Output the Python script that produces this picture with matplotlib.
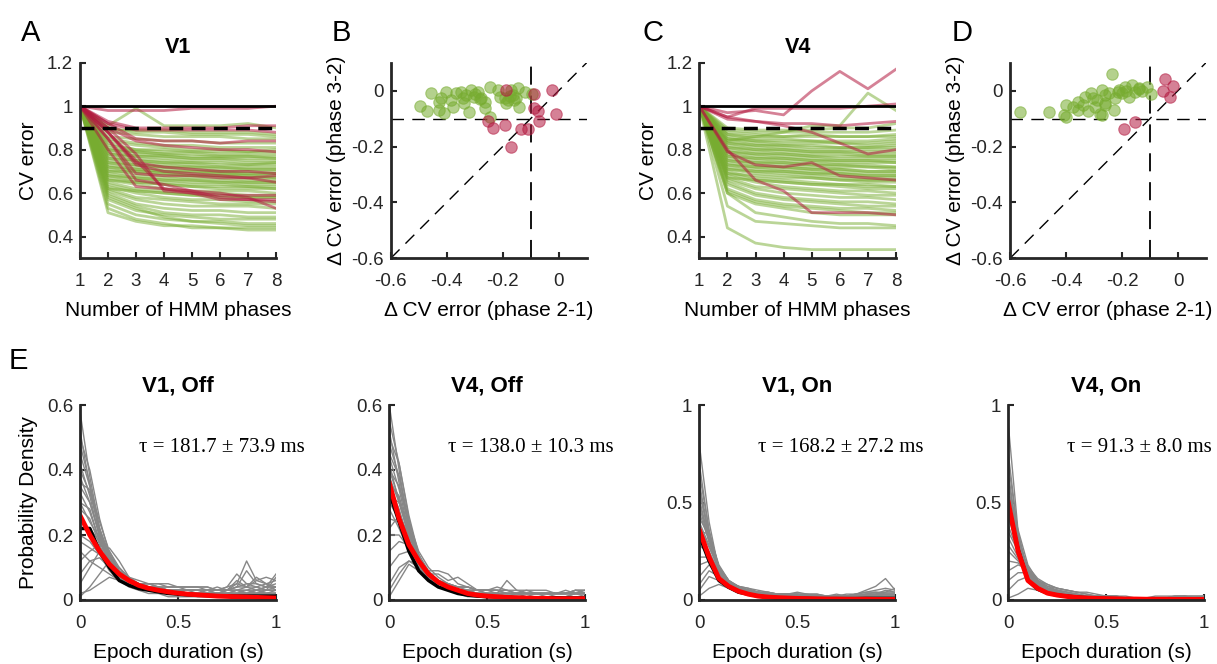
import matplotlib
matplotlib.use("Agg")
import matplotlib.pyplot as plt
from matplotlib.ticker import FuncFormatter

plt.rcParams['font.family'] = ['Liberation Sans', 'DejaVu Sans']

# ---------------- data ----------------
phases = [1, 2, 3, 4, 5, 6, 7, 8]

v1_green = [
    [1, 0.90, 0.88, 0.88, 0.87, 0.87, 0.87, 0.86],
    [1, 0.88, 0.87, 0.86, 0.86, 0.86, 0.85, 0.85],
    [1, 0.86, 0.85, 0.84, 0.84, 0.83, 0.83, 0.83],
    [1, 0.85, 0.83, 0.82, 0.82, 0.81, 0.81, 0.81],
    [1, 0.84, 0.82, 0.81, 0.80, 0.80, 0.79, 0.79],
    [1, 0.82, 0.80, 0.79, 0.79, 0.78, 0.78, 0.78],
    [1, 0.81, 0.79, 0.78, 0.77, 0.77, 0.77, 0.76],
    [1, 0.80, 0.78, 0.77, 0.76, 0.76, 0.75, 0.75],
    [1, 0.79, 0.77, 0.76, 0.75, 0.75, 0.74, 0.74],
    [1, 0.78, 0.76, 0.75, 0.74, 0.74, 0.73, 0.73],
    [1, 0.77, 0.75, 0.74, 0.73, 0.72, 0.72, 0.72],
    [1, 0.76, 0.74, 0.73, 0.72, 0.71, 0.71, 0.71],
    [1, 0.75, 0.73, 0.72, 0.71, 0.70, 0.70, 0.70],
    [1, 0.74, 0.72, 0.71, 0.70, 0.70, 0.69, 0.69],
    [1, 0.73, 0.71, 0.70, 0.69, 0.69, 0.68, 0.68],
    [1, 0.72, 0.70, 0.69, 0.68, 0.68, 0.67, 0.67],
    [1, 0.71, 0.69, 0.68, 0.67, 0.67, 0.66, 0.66],
    [1, 0.70, 0.68, 0.67, 0.66, 0.66, 0.65, 0.65],
    [1, 0.69, 0.67, 0.66, 0.65, 0.65, 0.64, 0.64],
    [1, 0.68, 0.66, 0.65, 0.64, 0.64, 0.63, 0.63],
    [1, 0.67, 0.65, 0.64, 0.63, 0.62, 0.62, 0.62],
    [1, 0.66, 0.64, 0.62, 0.61, 0.61, 0.61, 0.60],
    [1, 0.65, 0.62, 0.61, 0.60, 0.60, 0.59, 0.59],
    [1, 0.64, 0.61, 0.60, 0.59, 0.58, 0.58, 0.58],
    [1, 0.63, 0.60, 0.58, 0.57, 0.57, 0.56, 0.56],
    [1, 0.62, 0.58, 0.57, 0.56, 0.55, 0.55, 0.55],
    [1, 0.61, 0.57, 0.55, 0.54, 0.54, 0.54, 0.53],
    [1, 0.60, 0.55, 0.53, 0.52, 0.52, 0.51, 0.51],
    [1, 0.59, 0.54, 0.51, 0.50, 0.50, 0.49, 0.49],
    [1, 0.57, 0.52, 0.50, 0.49, 0.48, 0.48, 0.48],
    [1, 0.55, 0.50, 0.48, 0.47, 0.47, 0.46, 0.46],
    [1, 0.51, 0.47, 0.45, 0.45, 0.44, 0.44, 0.44],
    [1, 0.53, 0.48, 0.46, 0.44, 0.44, 0.43, 0.43],
    [1, 0.58, 0.53, 0.49, 0.47, 0.46, 0.45, 0.45],
    [1, 0.83, 0.80, 0.80, 0.79, 0.79, 0.79, 0.80],
    [1, 0.80, 0.79, 0.78, 0.78, 0.77, 0.77, 0.77],
    [1, 0.78, 0.77, 0.77, 0.76, 0.76, 0.76, 0.76],
    [1, 0.76, 0.75, 0.74, 0.74, 0.73, 0.73, 0.74],
    [1, 0.74, 0.73, 0.72, 0.72, 0.72, 0.71, 0.71],
    [1, 0.72, 0.71, 0.70, 0.70, 0.69, 0.69, 0.69],
    [1, 0.70, 0.70, 0.69, 0.68, 0.68, 0.68, 0.67],
    [1, 0.68, 0.67, 0.66, 0.66, 0.65, 0.65, 0.65],
    [1, 0.66, 0.65, 0.64, 0.63, 0.63, 0.63, 0.62],
    [1, 0.62, 0.61, 0.60, 0.59, 0.59, 0.58, 0.58],
    [1, 0.91, 0.99, 0.91, 0.91, 0.91, 0.92, 0.90],
    [1, 0.89, 0.89, 0.89, 0.88, 0.88, 0.88, 0.87],
]

v1_red = [
    [1, 0.98, 0.98, 0.98, 0.99, 0.99, 0.99, 1.00],
    [1, 0.93, 0.90, 0.90, 0.90, 0.90, 0.91, 0.91],
    [1, 0.92, 0.89, 0.89, 0.89, 0.89, 0.89, 0.88],
    [1, 0.92, 0.85, 0.84, 0.84, 0.83, 0.84, 0.84],
    [1, 0.90, 0.84, 0.82, 0.81, 0.80, 0.80, 0.79],
    [1, 0.88, 0.74, 0.72, 0.71, 0.70, 0.70, 0.69],
    [1, 0.85, 0.69, 0.68, 0.68, 0.67, 0.67, 0.65],
    [1, 0.80, 0.63, 0.62, 0.60, 0.57, 0.57, 0.57],
    [1, 0.88, 0.75, 0.62, 0.61, 0.58, 0.57, 0.56],
    [1, 0.90, 0.78, 0.61, 0.60, 0.59, 0.59, 0.59],
    [1, 0.85, 0.66, 0.64, 0.61, 0.60, 0.58, 0.53],
    [1, 0.88, 0.73, 0.70, 0.69, 0.68, 0.67, 0.68],
]

v4_green = [
    [1, 0.89, 0.88, 0.88, 0.88, 0.88, 0.88, 0.89],
    [1, 0.88, 0.87, 0.86, 0.86, 0.86, 0.86, 0.86],
    [1, 0.87, 0.85, 0.85, 0.84, 0.84, 0.84, 0.85],
    [1, 0.86, 0.84, 0.83, 0.83, 0.83, 0.82, 0.83],
    [1, 0.85, 0.83, 0.82, 0.82, 0.81, 0.81, 0.81],
    [1, 0.84, 0.82, 0.81, 0.80, 0.80, 0.80, 0.80],
    [1, 0.83, 0.81, 0.80, 0.79, 0.79, 0.78, 0.78],
    [1, 0.82, 0.80, 0.79, 0.78, 0.78, 0.77, 0.77],
    [1, 0.81, 0.79, 0.78, 0.77, 0.76, 0.76, 0.76],
    [1, 0.80, 0.78, 0.77, 0.76, 0.75, 0.75, 0.75],
    [1, 0.79, 0.77, 0.76, 0.75, 0.74, 0.74, 0.74],
    [1, 0.78, 0.76, 0.75, 0.74, 0.73, 0.73, 0.72],
    [1, 0.77, 0.75, 0.74, 0.73, 0.72, 0.72, 0.71],
    [1, 0.76, 0.74, 0.73, 0.72, 0.71, 0.70, 0.70],
    [1, 0.75, 0.73, 0.72, 0.71, 0.70, 0.69, 0.69],
    [1, 0.74, 0.72, 0.71, 0.70, 0.69, 0.68, 0.68],
    [1, 0.73, 0.71, 0.70, 0.69, 0.68, 0.67, 0.67],
    [1, 0.72, 0.70, 0.69, 0.68, 0.67, 0.66, 0.66],
    [1, 0.71, 0.69, 0.68, 0.67, 0.66, 0.65, 0.65],
    [1, 0.70, 0.67, 0.66, 0.65, 0.64, 0.64, 0.63],
    [1, 0.69, 0.66, 0.65, 0.64, 0.63, 0.62, 0.62],
    [1, 0.68, 0.65, 0.63, 0.62, 0.61, 0.61, 0.60],
    [1, 0.67, 0.63, 0.62, 0.61, 0.60, 0.59, 0.59],
    [1, 0.66, 0.62, 0.60, 0.59, 0.58, 0.58, 0.57],
    [1, 0.65, 0.60, 0.58, 0.57, 0.56, 0.56, 0.55],
    [1, 0.64, 0.59, 0.57, 0.56, 0.55, 0.54, 0.54],
    [1, 0.62, 0.57, 0.55, 0.54, 0.53, 0.53, 0.52],
    [1, 0.61, 0.56, 0.54, 0.53, 0.52, 0.51, 0.51],
    [1, 0.60, 0.55, 0.53, 0.51, 0.50, 0.50, 0.50],
    [1, 0.60, 0.51, 0.49, 0.47, 0.46, 0.46, 0.45],
    [1, 0.54, 0.47, 0.46, 0.45, 0.44, 0.44, 0.44],
    [1, 0.44, 0.37, 0.35, 0.34, 0.34, 0.34, 0.34],
    [1, 0.87, 0.86, 0.86, 0.87, 0.86, 0.86, 0.87],
    [1, 0.85, 0.84, 0.84, 0.84, 0.83, 0.83, 0.84],
    [1, 0.83, 0.82, 0.82, 0.81, 0.81, 0.81, 0.82],
    [1, 0.81, 0.80, 0.80, 0.79, 0.79, 0.79, 0.79],
    [1, 0.79, 0.78, 0.78, 0.77, 0.77, 0.77, 0.77],
    [1, 0.77, 0.76, 0.76, 0.75, 0.75, 0.75, 0.74],
    [1, 0.75, 0.74, 0.74, 0.73, 0.73, 0.72, 0.72],
    [1, 0.73, 0.72, 0.72, 0.71, 0.71, 0.70, 0.70],
    [1, 0.71, 0.70, 0.70, 0.69, 0.69, 0.68, 0.68],
    [1, 0.69, 0.68, 0.67, 0.67, 0.66, 0.66, 0.66],
    [1, 0.67, 0.66, 0.65, 0.64, 0.64, 0.63, 0.63],
    [1, 0.84, 0.86, 0.88, 0.91, 0.91, 1.06, 0.98],
    [1, 0.90, 0.89, 0.89, 0.89, 0.90, 0.90, 0.92],
]

v4_red = [
    [1, 0.97, 0.98, 0.96, 1.07, 1.16, 1.08, 1.17],
    [1, 0.95, 0.99, 0.99, 0.99, 0.99, 1.00, 1.01],
    [1, 0.95, 0.93, 0.92, 0.92, 0.91, 0.92, 0.93],
    [1, 0.94, 0.93, 0.91, 0.88, 0.83, 0.78, 0.80],
    [1, 0.79, 0.73, 0.72, 0.74, 0.68, 0.67, 0.66],
    [1, 0.80, 0.66, 0.61, 0.51, 0.51, 0.51, 0.50],
]

# scatter B (V1)
b_green_x = [-0.457, -0.494, -0.469, -0.421, -0.403, -0.427, -0.427, -0.409, -0.385, -0.379,
             -0.367, -0.349, -0.343, -0.337, -0.319, -0.313, -0.301, -0.289, -0.277, -0.265,
             -0.262, -0.247, -0.247, -0.217, -0.211, -0.193, -0.181, -0.169, -0.162, -0.151,
             -0.144, -0.142, -0.121, -0.096, -0.330, -0.300, -0.280, -0.190, -0.175, -0.160]
b_green_y = [-0.009, -0.054, -0.073, -0.025, -0.004, -0.039, -0.069, -0.081, -0.033, -0.057,
             -0.009, -0.004, -0.027, -0.045, -0.075, 0.002, -0.021, -0.004, -0.027, -0.039,
             -0.063, 0.014, -0.093, 0.002, -0.021, -0.027, -0.033, 0.002, -0.015, -0.027,
             0.009, -0.059, -0.004, -0.013, -0.015, -0.012, -0.030, -0.045, -0.020, -0.035]
b_red_x = [-0.187, -0.090, -0.024, -0.090, -0.075, -0.010, -0.072, -0.253, -0.235, -0.193,
           -0.135, -0.111, -0.169]
b_red_y = [0.002, -0.013, 0.002, -0.063, -0.073, -0.082, -0.108, -0.108, -0.135, -0.123,
           -0.137, -0.137, -0.200]

# scatter D (V4)
d_green_x = [-0.564, -0.461, -0.406, -0.400, -0.400, -0.376, -0.358, -0.339, -0.321, -0.309,
             -0.303, -0.297, -0.279, -0.273, -0.261, -0.248, -0.236, -0.230, -0.224, -0.212,
             -0.200, -0.188, -0.176, -0.164, -0.152, -0.139, -0.127, -0.109, -0.095, -0.333,
             -0.358, -0.291, -0.261, -0.273, -0.260, -0.215, -0.185, -0.140]
d_green_y = [-0.075, -0.075, -0.087, -0.095, -0.051, -0.057, -0.039, -0.051, -0.073, -0.009,
             -0.027, -0.057, -0.083, 0.002, -0.045, -0.009, 0.060, -0.069, -0.027, 0.002,
             -0.009, 0.014, -0.021, 0.020, -0.004, 0.009, 0.000, 0.014, -0.012, -0.021,
             -0.069, -0.033, -0.015, -0.087, -0.050, -0.005, 0.000, 0.005]
d_red_x = [-0.048, -0.018, -0.052, -0.027, -0.155, -0.194]
d_red_y = [0.042, 0.017, 0.000, -0.024, -0.114, -0.137]

# panel E
epoch_t = [0.00, 0.05, 0.10, 0.15, 0.20, 0.25, 0.30, 0.35, 0.40, 0.45, 0.50,
           0.55, 0.60, 0.65, 0.70, 0.75, 0.80, 0.85, 0.90, 0.95, 1.00]

v1_off_grey = [
    [0.58, 0.38, 0.22, 0.12, 0.07, 0.05, 0.04, 0.03, 0.03, 0.02, 0.02, 0.02, 0.01, 0.01, 0.02, 0.01, 0.01, 0.02, 0.01, 0.01, 0.01],
    [0.50, 0.40, 0.25, 0.14, 0.08, 0.05, 0.04, 0.04, 0.03, 0.03, 0.02, 0.02, 0.02, 0.02, 0.02, 0.02, 0.03, 0.02, 0.02, 0.02, 0.02],
    [0.45, 0.35, 0.24, 0.15, 0.09, 0.06, 0.05, 0.04, 0.03, 0.03, 0.03, 0.02, 0.02, 0.02, 0.02, 0.02, 0.02, 0.02, 0.03, 0.02, 0.03],
    [0.40, 0.33, 0.22, 0.13, 0.08, 0.06, 0.05, 0.05, 0.04, 0.03, 0.03, 0.03, 0.03, 0.03, 0.02, 0.03, 0.06, 0.04, 0.03, 0.04, 0.05],
    [0.35, 0.30, 0.20, 0.12, 0.08, 0.06, 0.05, 0.05, 0.04, 0.04, 0.04, 0.03, 0.03, 0.03, 0.03, 0.04, 0.08, 0.05, 0.04, 0.03, 0.04],
    [0.30, 0.28, 0.18, 0.11, 0.07, 0.05, 0.04, 0.04, 0.04, 0.03, 0.03, 0.03, 0.03, 0.03, 0.03, 0.03, 0.05, 0.12, 0.06, 0.07, 0.06],
    [0.28, 0.25, 0.17, 0.10, 0.07, 0.05, 0.04, 0.04, 0.03, 0.03, 0.03, 0.03, 0.02, 0.03, 0.03, 0.03, 0.03, 0.03, 0.03, 0.04, 0.08],
    [0.25, 0.20, 0.15, 0.10, 0.06, 0.05, 0.04, 0.03, 0.03, 0.03, 0.03, 0.02, 0.02, 0.02, 0.02, 0.02, 0.02, 0.03, 0.04, 0.03, 0.07],
    [0.20, 0.18, 0.14, 0.09, 0.06, 0.05, 0.04, 0.04, 0.03, 0.03, 0.03, 0.03, 0.03, 0.03, 0.02, 0.03, 0.04, 0.09, 0.05, 0.04, 0.04],
    [0.12, 0.15, 0.17, 0.15, 0.10, 0.06, 0.04, 0.03, 0.03, 0.02, 0.02, 0.02, 0.02, 0.02, 0.02, 0.02, 0.02, 0.02, 0.02, 0.02, 0.02],
    [0.05, 0.10, 0.15, 0.16, 0.12, 0.07, 0.05, 0.04, 0.03, 0.03, 0.02, 0.02, 0.02, 0.02, 0.02, 0.02, 0.02, 0.02, 0.02, 0.03, 0.03],
    [0.01, 0.04, 0.08, 0.12, 0.10, 0.07, 0.05, 0.04, 0.03, 0.02, 0.02, 0.02, 0.02, 0.02, 0.02, 0.02, 0.02, 0.01, 0.02, 0.02, 0.02],
    [0.15, 0.12, 0.10, 0.08, 0.06, 0.04, 0.03, 0.02, 0.02, 0.01, 0.01, 0.01, 0.01, 0.01, 0.01, 0.01, 0.01, 0.01, 0.01, 0.01, 0.01],
    [0.38, 0.30, 0.20, 0.13, 0.09, 0.07, 0.06, 0.05, 0.05, 0.05, 0.04, 0.04, 0.04, 0.04, 0.03, 0.04, 0.05, 0.04, 0.06, 0.05, 0.03],
    [0.48, 0.36, 0.21, 0.12, 0.07, 0.05, 0.04, 0.03, 0.03, 0.02, 0.02, 0.02, 0.02, 0.02, 0.02, 0.02, 0.02, 0.02, 0.02, 0.02, 0.02],
    [0.42, 0.32, 0.19, 0.11, 0.07, 0.05, 0.04, 0.04, 0.03, 0.03, 0.02, 0.02, 0.02, 0.02, 0.02, 0.03, 0.03, 0.03, 0.02, 0.03, 0.03],
    [0.33, 0.27, 0.18, 0.12, 0.08, 0.06, 0.05, 0.04, 0.03, 0.03, 0.03, 0.03, 0.03, 0.03, 0.03, 0.03, 0.04, 0.05, 0.05, 0.04, 0.04],
    [0.30, 0.24, 0.19, 0.14, 0.09, 0.06, 0.05, 0.04, 0.03, 0.03, 0.03, 0.02, 0.02, 0.02, 0.02, 0.02, 0.03, 0.02, 0.03, 0.03, 0.03],
    [0.22, 0.22, 0.18, 0.13, 0.09, 0.06, 0.05, 0.04, 0.04, 0.04, 0.04, 0.04, 0.04, 0.03, 0.04, 0.03, 0.04, 0.04, 0.07, 0.05, 0.06],
    [0.18, 0.16, 0.14, 0.12, 0.08, 0.06, 0.05, 0.05, 0.05, 0.04, 0.04, 0.04, 0.04, 0.04, 0.03, 0.03, 0.03, 0.04, 0.04, 0.05, 0.04],
    [0.08, 0.12, 0.13, 0.10, 0.07, 0.05, 0.04, 0.03, 0.03, 0.03, 0.02, 0.02, 0.02, 0.02, 0.02, 0.02, 0.02, 0.02, 0.02, 0.02, 0.02],
    [0.02, 0.03, 0.05, 0.07, 0.06, 0.05, 0.04, 0.03, 0.03, 0.02, 0.02, 0.02, 0.02, 0.02, 0.02, 0.02, 0.02, 0.02, 0.02, 0.02, 0.02],
    [0.52, 0.35, 0.20, 0.12, 0.07, 0.05, 0.04, 0.03, 0.03, 0.02, 0.02, 0.02, 0.02, 0.02, 0.02, 0.02, 0.02, 0.02, 0.02, 0.02, 0.02],
    [0.36, 0.34, 0.22, 0.14, 0.09, 0.06, 0.05, 0.04, 0.04, 0.03, 0.03, 0.03, 0.03, 0.02, 0.02, 0.02, 0.02, 0.02, 0.02, 0.02, 0.02],
]
v1_off_mean = [0.22, 0.22, 0.15, 0.10, 0.06, 0.045, 0.035, 0.030, 0.025, 0.020, 0.018,
               0.016, 0.015, 0.014, 0.013, 0.013, 0.012, 0.012, 0.012, 0.012, 0.012]
v1_off_fit = [0.26, 0.20, 0.15, 0.11, 0.08, 0.060, 0.045, 0.036, 0.030, 0.025, 0.021,
              0.018, 0.016, 0.014, 0.012, 0.011, 0.010, 0.009, 0.008, 0.007, 0.006]

v4_off_grey = [
    [0.60, 0.40, 0.22, 0.12, 0.06, 0.04, 0.03, 0.02, 0.02, 0.01, 0.01, 0.01, 0.01, 0.01, 0.01, 0.01, 0.01, 0.01, 0.01, 0.01, 0.01],
    [0.50, 0.42, 0.25, 0.13, 0.07, 0.04, 0.03, 0.02, 0.02, 0.02, 0.01, 0.01, 0.01, 0.01, 0.01, 0.01, 0.01, 0.01, 0.01, 0.01, 0.01],
    [0.45, 0.38, 0.24, 0.14, 0.08, 0.05, 0.04, 0.03, 0.02, 0.02, 0.02, 0.02, 0.01, 0.02, 0.01, 0.02, 0.01, 0.01, 0.01, 0.02, 0.01],
    [0.42, 0.30, 0.20, 0.12, 0.07, 0.05, 0.04, 0.03, 0.02, 0.02, 0.02, 0.02, 0.02, 0.02, 0.02, 0.02, 0.02, 0.02, 0.03, 0.02, 0.02],
    [0.38, 0.30, 0.22, 0.14, 0.09, 0.06, 0.05, 0.04, 0.03, 0.03, 0.03, 0.02, 0.02, 0.02, 0.02, 0.02, 0.02, 0.02, 0.02, 0.02, 0.02],
    [0.35, 0.28, 0.18, 0.12, 0.08, 0.06, 0.05, 0.04, 0.04, 0.03, 0.03, 0.04, 0.03, 0.02, 0.02, 0.02, 0.02, 0.02, 0.02, 0.02, 0.03],
    [0.30, 0.25, 0.16, 0.10, 0.08, 0.08, 0.06, 0.07, 0.05, 0.03, 0.03, 0.03, 0.03, 0.03, 0.03, 0.03, 0.03, 0.02, 0.02, 0.03, 0.02],
    [0.28, 0.22, 0.15, 0.10, 0.09, 0.09, 0.08, 0.05, 0.04, 0.03, 0.03, 0.03, 0.02, 0.02, 0.03, 0.02, 0.02, 0.02, 0.02, 0.02, 0.02],
    [0.20, 0.20, 0.16, 0.11, 0.07, 0.05, 0.04, 0.03, 0.03, 0.03, 0.02, 0.02, 0.06, 0.03, 0.02, 0.02, 0.02, 0.02, 0.02, 0.02, 0.02],
    [0.10, 0.14, 0.15, 0.11, 0.07, 0.05, 0.04, 0.03, 0.03, 0.02, 0.02, 0.02, 0.02, 0.02, 0.02, 0.02, 0.02, 0.01, 0.01, 0.02, 0.02],
    [0.05, 0.10, 0.12, 0.10, 0.07, 0.05, 0.03, 0.03, 0.02, 0.02, 0.02, 0.02, 0.01, 0.01, 0.01, 0.01, 0.01, 0.01, 0.01, 0.01, 0.01],
    [0.01, 0.06, 0.11, 0.09, 0.06, 0.04, 0.03, 0.02, 0.02, 0.01, 0.01, 0.01, 0.01, 0.01, 0.01, 0.01, 0.01, 0.01, 0.01, 0.01, 0.01],
    [0.40, 0.35, 0.24, 0.15, 0.10, 0.07, 0.05, 0.04, 0.04, 0.03, 0.03, 0.03, 0.02, 0.02, 0.02, 0.02, 0.02, 0.02, 0.02, 0.03, 0.03],
    [0.55, 0.42, 0.26, 0.14, 0.07, 0.04, 0.03, 0.02, 0.01, 0.01, 0.01, 0.01, 0.01, 0.01, 0.01, 0.01, 0.01, 0.01, 0.01, 0.01, 0.01],
    [0.48, 0.38, 0.23, 0.13, 0.07, 0.04, 0.03, 0.02, 0.02, 0.02, 0.01, 0.01, 0.01, 0.01, 0.01, 0.01, 0.01, 0.01, 0.01, 0.01, 0.01],
    [0.44, 0.34, 0.21, 0.12, 0.07, 0.05, 0.04, 0.03, 0.02, 0.02, 0.02, 0.02, 0.02, 0.02, 0.02, 0.02, 0.02, 0.02, 0.02, 0.02, 0.02],
    [0.36, 0.32, 0.21, 0.13, 0.08, 0.05, 0.04, 0.03, 0.03, 0.02, 0.02, 0.02, 0.02, 0.02, 0.02, 0.02, 0.02, 0.02, 0.02, 0.02, 0.02],
    [0.32, 0.30, 0.20, 0.13, 0.08, 0.06, 0.04, 0.03, 0.03, 0.03, 0.02, 0.02, 0.02, 0.02, 0.02, 0.02, 0.02, 0.02, 0.02, 0.02, 0.02],
    [0.25, 0.24, 0.18, 0.12, 0.08, 0.06, 0.05, 0.04, 0.04, 0.03, 0.03, 0.03, 0.03, 0.02, 0.02, 0.02, 0.02, 0.02, 0.02, 0.03, 0.03],
    [0.15, 0.18, 0.17, 0.12, 0.08, 0.05, 0.04, 0.03, 0.03, 0.02, 0.02, 0.02, 0.02, 0.02, 0.02, 0.02, 0.02, 0.02, 0.02, 0.02, 0.02],
    [0.03, 0.08, 0.12, 0.11, 0.08, 0.05, 0.04, 0.03, 0.02, 0.02, 0.02, 0.01, 0.01, 0.01, 0.01, 0.01, 0.01, 0.01, 0.01, 0.01, 0.01],
    [0.52, 0.36, 0.22, 0.12, 0.07, 0.04, 0.03, 0.02, 0.02, 0.01, 0.01, 0.01, 0.01, 0.01, 0.01, 0.01, 0.01, 0.01, 0.01, 0.01, 0.01],
    [0.40, 0.31, 0.19, 0.11, 0.06, 0.04, 0.03, 0.02, 0.02, 0.02, 0.01, 0.01, 0.01, 0.01, 0.01, 0.01, 0.01, 0.01, 0.01, 0.01, 0.01],
    [0.22, 0.26, 0.20, 0.13, 0.08, 0.05, 0.04, 0.03, 0.02, 0.02, 0.02, 0.02, 0.02, 0.02, 0.02, 0.02, 0.02, 0.02, 0.02, 0.02, 0.02],
]
v4_off_mean = [0.33, 0.24, 0.15, 0.09, 0.06, 0.040, 0.030, 0.020, 0.015, 0.012, 0.010,
               0.010, 0.008, 0.008, 0.007, 0.007, 0.007, 0.007, 0.006, 0.006, 0.006]
v4_off_fit = [0.36, 0.25, 0.17, 0.12, 0.08, 0.055, 0.040, 0.030, 0.020, 0.015, 0.012,
              0.010, 0.008, 0.007, 0.006, 0.005, 0.005, 0.004, 0.004, 0.004, 0.004]

v1_on_grey = [
    [0.80, 0.40, 0.15, 0.07, 0.04, 0.03, 0.02, 0.02, 0.01, 0.01, 0.01, 0.01, 0.01, 0.01, 0.01, 0.01, 0.01, 0.01, 0.01, 0.01, 0.01],
    [0.70, 0.35, 0.16, 0.08, 0.05, 0.03, 0.03, 0.02, 0.02, 0.02, 0.01, 0.01, 0.01, 0.01, 0.01, 0.01, 0.01, 0.01, 0.01, 0.01, 0.01],
    [0.60, 0.33, 0.17, 0.09, 0.06, 0.04, 0.03, 0.03, 0.02, 0.02, 0.02, 0.02, 0.02, 0.02, 0.02, 0.02, 0.02, 0.02, 0.02, 0.02, 0.02],
    [0.52, 0.30, 0.16, 0.09, 0.07, 0.05, 0.04, 0.03, 0.03, 0.03, 0.03, 0.02, 0.02, 0.02, 0.02, 0.03, 0.03, 0.04, 0.05, 0.06, 0.05],
    [0.45, 0.30, 0.17, 0.10, 0.07, 0.06, 0.05, 0.04, 0.03, 0.03, 0.03, 0.03, 0.02, 0.02, 0.02, 0.02, 0.03, 0.05, 0.07, 0.11, 0.05],
    [0.40, 0.28, 0.15, 0.09, 0.07, 0.06, 0.04, 0.04, 0.03, 0.03, 0.04, 0.03, 0.03, 0.02, 0.03, 0.02, 0.03, 0.03, 0.04, 0.03, 0.03],
    [0.35, 0.34, 0.18, 0.10, 0.06, 0.05, 0.04, 0.03, 0.03, 0.03, 0.02, 0.02, 0.02, 0.02, 0.02, 0.02, 0.02, 0.03, 0.03, 0.04, 0.06],
    [0.30, 0.25, 0.14, 0.09, 0.06, 0.05, 0.04, 0.03, 0.03, 0.02, 0.02, 0.02, 0.02, 0.02, 0.02, 0.02, 0.02, 0.02, 0.03, 0.03, 0.03],
    [0.22, 0.22, 0.14, 0.08, 0.06, 0.04, 0.03, 0.03, 0.02, 0.02, 0.02, 0.02, 0.02, 0.02, 0.02, 0.02, 0.02, 0.02, 0.02, 0.02, 0.02],
    [0.12, 0.18, 0.13, 0.08, 0.05, 0.04, 0.03, 0.02, 0.02, 0.02, 0.02, 0.02, 0.02, 0.02, 0.01, 0.01, 0.01, 0.01, 0.01, 0.01, 0.01],
    [0.05, 0.12, 0.10, 0.07, 0.05, 0.03, 0.02, 0.02, 0.02, 0.01, 0.01, 0.01, 0.01, 0.01, 0.01, 0.01, 0.01, 0.01, 0.01, 0.01, 0.01],
    [0.02, 0.06, 0.08, 0.06, 0.04, 0.03, 0.02, 0.02, 0.01, 0.01, 0.01, 0.01, 0.01, 0.01, 0.01, 0.01, 0.01, 0.01, 0.01, 0.01, 0.01],
    [0.50, 0.32, 0.15, 0.08, 0.05, 0.04, 0.03, 0.02, 0.02, 0.02, 0.02, 0.01, 0.01, 0.01, 0.01, 0.01, 0.01, 0.01, 0.01, 0.01, 0.01],
    [0.65, 0.36, 0.16, 0.08, 0.05, 0.03, 0.02, 0.02, 0.02, 0.01, 0.01, 0.01, 0.01, 0.01, 0.01, 0.01, 0.01, 0.01, 0.01, 0.01, 0.01],
    [0.55, 0.34, 0.17, 0.09, 0.06, 0.04, 0.03, 0.03, 0.02, 0.02, 0.02, 0.02, 0.02, 0.02, 0.02, 0.02, 0.02, 0.02, 0.02, 0.02, 0.02],
    [0.48, 0.30, 0.16, 0.10, 0.06, 0.05, 0.04, 0.03, 0.03, 0.02, 0.02, 0.02, 0.02, 0.02, 0.02, 0.02, 0.02, 0.03, 0.03, 0.03, 0.03],
    [0.42, 0.33, 0.17, 0.10, 0.07, 0.05, 0.04, 0.04, 0.03, 0.03, 0.03, 0.03, 0.03, 0.02, 0.02, 0.02, 0.03, 0.04, 0.04, 0.04, 0.04],
    [0.38, 0.27, 0.16, 0.09, 0.06, 0.05, 0.04, 0.03, 0.03, 0.03, 0.03, 0.02, 0.02, 0.02, 0.02, 0.02, 0.02, 0.03, 0.03, 0.05, 0.04],
    [0.28, 0.24, 0.15, 0.09, 0.06, 0.05, 0.04, 0.03, 0.03, 0.02, 0.02, 0.02, 0.02, 0.02, 0.02, 0.02, 0.02, 0.02, 0.02, 0.03, 0.03],
    [0.18, 0.20, 0.14, 0.08, 0.05, 0.04, 0.03, 0.03, 0.02, 0.02, 0.02, 0.02, 0.02, 0.02, 0.02, 0.02, 0.02, 0.02, 0.02, 0.02, 0.02],
    [0.08, 0.15, 0.12, 0.08, 0.05, 0.04, 0.03, 0.02, 0.02, 0.02, 0.01, 0.01, 0.01, 0.01, 0.01, 0.01, 0.01, 0.01, 0.01, 0.01, 0.01],
    [0.58, 0.31, 0.15, 0.08, 0.05, 0.04, 0.03, 0.02, 0.02, 0.02, 0.02, 0.01, 0.01, 0.01, 0.01, 0.01, 0.01, 0.01, 0.01, 0.01, 0.01],
]
v1_on_mean = [0.33, 0.20, 0.10, 0.065, 0.040, 0.030, 0.020, 0.015, 0.012, 0.010, 0.008,
              0.008, 0.007, 0.007, 0.007, 0.007, 0.007, 0.008, 0.008, 0.008, 0.008]
v1_on_fit = [0.36, 0.22, 0.11, 0.070, 0.045, 0.030, 0.020, 0.015, 0.012, 0.010, 0.008,
             0.007, 0.006, 0.005, 0.005, 0.004, 0.004, 0.004, 0.003, 0.003, 0.003]

v4_on_grey = [
    [0.90, 0.35, 0.12, 0.06, 0.03, 0.02, 0.02, 0.01, 0.01, 0.01, 0.01, 0.01, 0.01, 0.01, 0.01, 0.01, 0.01, 0.01, 0.01, 0.01, 0.01],
    [0.75, 0.33, 0.13, 0.07, 0.04, 0.03, 0.02, 0.02, 0.01, 0.01, 0.01, 0.01, 0.01, 0.01, 0.01, 0.01, 0.01, 0.01, 0.01, 0.01, 0.01],
    [0.65, 0.30, 0.14, 0.08, 0.05, 0.03, 0.02, 0.02, 0.02, 0.01, 0.01, 0.01, 0.01, 0.01, 0.01, 0.01, 0.01, 0.01, 0.01, 0.01, 0.01],
    [0.58, 0.32, 0.15, 0.09, 0.06, 0.05, 0.04, 0.03, 0.02, 0.02, 0.01, 0.01, 0.01, 0.01, 0.01, 0.01, 0.01, 0.01, 0.01, 0.01, 0.01],
    [0.50, 0.30, 0.16, 0.10, 0.08, 0.06, 0.05, 0.04, 0.03, 0.02, 0.02, 0.02, 0.01, 0.01, 0.01, 0.01, 0.01, 0.01, 0.02, 0.01, 0.01],
    [0.45, 0.28, 0.15, 0.10, 0.07, 0.06, 0.05, 0.04, 0.04, 0.03, 0.02, 0.02, 0.02, 0.01, 0.01, 0.02, 0.02, 0.02, 0.02, 0.02, 0.02],
    [0.38, 0.25, 0.14, 0.08, 0.06, 0.05, 0.03, 0.03, 0.02, 0.02, 0.02, 0.01, 0.01, 0.01, 0.01, 0.01, 0.01, 0.02, 0.02, 0.02, 0.02],
    [0.32, 0.22, 0.13, 0.09, 0.06, 0.04, 0.03, 0.02, 0.02, 0.02, 0.01, 0.01, 0.01, 0.01, 0.01, 0.01, 0.01, 0.01, 0.01, 0.01, 0.01],
    [0.25, 0.20, 0.14, 0.08, 0.05, 0.04, 0.03, 0.02, 0.02, 0.02, 0.01, 0.01, 0.01, 0.01, 0.01, 0.01, 0.01, 0.01, 0.01, 0.01, 0.01],
    [0.15, 0.18, 0.16, 0.10, 0.06, 0.04, 0.03, 0.02, 0.02, 0.01, 0.01, 0.01, 0.01, 0.01, 0.01, 0.01, 0.01, 0.01, 0.01, 0.01, 0.01],
    [0.05, 0.10, 0.12, 0.09, 0.05, 0.03, 0.02, 0.02, 0.01, 0.01, 0.01, 0.01, 0.01, 0.01, 0.01, 0.01, 0.01, 0.01, 0.01, 0.01, 0.01],
    [0.01, 0.03, 0.06, 0.05, 0.04, 0.02, 0.02, 0.01, 0.01, 0.01, 0.01, 0.01, 0.01, 0.01, 0.01, 0.01, 0.01, 0.01, 0.01, 0.01, 0.01],
    [0.55, 0.36, 0.18, 0.10, 0.07, 0.05, 0.04, 0.03, 0.02, 0.02, 0.02, 0.02, 0.01, 0.01, 0.01, 0.01, 0.01, 0.02, 0.02, 0.01, 0.02],
    [0.70, 0.34, 0.13, 0.07, 0.04, 0.03, 0.02, 0.02, 0.01, 0.01, 0.01, 0.01, 0.01, 0.01, 0.01, 0.01, 0.01, 0.01, 0.01, 0.01, 0.01],
    [0.62, 0.31, 0.14, 0.08, 0.05, 0.03, 0.03, 0.02, 0.02, 0.01, 0.01, 0.01, 0.01, 0.01, 0.01, 0.01, 0.01, 0.01, 0.01, 0.01, 0.01],
    [0.52, 0.33, 0.16, 0.09, 0.06, 0.04, 0.03, 0.02, 0.02, 0.02, 0.01, 0.01, 0.01, 0.01, 0.01, 0.01, 0.01, 0.01, 0.01, 0.01, 0.01],
    [0.47, 0.29, 0.17, 0.11, 0.08, 0.06, 0.05, 0.04, 0.03, 0.02, 0.02, 0.02, 0.01, 0.01, 0.01, 0.01, 0.01, 0.01, 0.01, 0.01, 0.01],
    [0.42, 0.27, 0.15, 0.09, 0.06, 0.05, 0.04, 0.03, 0.02, 0.02, 0.02, 0.01, 0.01, 0.01, 0.01, 0.01, 0.01, 0.01, 0.01, 0.01, 0.01],
    [0.35, 0.25, 0.15, 0.09, 0.06, 0.04, 0.03, 0.02, 0.02, 0.02, 0.01, 0.01, 0.01, 0.01, 0.01, 0.01, 0.01, 0.01, 0.01, 0.01, 0.01],
    [0.28, 0.21, 0.13, 0.08, 0.05, 0.04, 0.03, 0.02, 0.02, 0.02, 0.01, 0.01, 0.01, 0.01, 0.01, 0.01, 0.01, 0.01, 0.01, 0.01, 0.01],
    [0.20, 0.19, 0.15, 0.09, 0.06, 0.04, 0.03, 0.02, 0.02, 0.01, 0.01, 0.01, 0.01, 0.01, 0.01, 0.01, 0.01, 0.01, 0.01, 0.01, 0.01],
    [0.10, 0.14, 0.14, 0.09, 0.05, 0.03, 0.02, 0.02, 0.01, 0.01, 0.01, 0.01, 0.01, 0.01, 0.01, 0.01, 0.01, 0.01, 0.01, 0.01, 0.01],
]
v4_on_mean = [0.48, 0.26, 0.10, 0.055, 0.035, 0.025, 0.020, 0.015, 0.012, 0.010, 0.008,
              0.007, 0.006, 0.006, 0.005, 0.005, 0.005, 0.005, 0.005, 0.005, 0.005]
v4_on_fit = [0.50, 0.25, 0.10, 0.060, 0.035, 0.025, 0.018, 0.013, 0.010, 0.008, 0.007,
             0.006, 0.005, 0.005, 0.004, 0.004, 0.004, 0.003, 0.003, 0.003, 0.003]

e_titles = ["V1, Off", "V4, Off", "V1, On", "V4, On"]
e_tau = ["τ = 181.7 ± 73.9 ms", "τ = 138.0 ± 10.3 ms", "τ = 168.2 ± 27.2 ms", "τ = 91.3 ± 8.0 ms"]

# ---------------- style ----------------
GREEN = (0.466, 0.674, 0.188)
RED = (0.70, 0.10, 0.25)
SPINE = '#262626'
TICK_FS = 13.5
LAB_FS = 15
W, H = 1217, 664

fmt = FuncFormatter(lambda v, p: f'{v:g}')


def px_axes(fig, x0, x1, ytop, ybot):
    return fig.add_axes([x0 / W, 1 - ybot / H, (x1 - x0) / W, (ybot - ytop) / H])


def style(ax):
    for s in ['top', 'right']:
        ax.spines[s].set_visible(False)
    for s in ['left', 'bottom']:
        ax.spines[s].set_linewidth(2)
        ax.spines[s].set_color(SPINE)
    ax.tick_params(direction='in', length=4, width=1.5, color=SPINE,
                   labelsize=TICK_FS, labelcolor='#262626')
    ax.tick_params(axis='x', pad=10.5)
    ax.tick_params(axis='y', pad=5)
    ax.xaxis.set_major_formatter(fmt)
    ax.yaxis.set_major_formatter(fmt)


fig = plt.figure(figsize=(W / 100, H / 100), dpi=100)


def cv_panel(ax, green, red, title):
    for g in green:
        ax.plot(phases, g, color=GREEN, alpha=0.5, lw=2, solid_joinstyle='round')
    for r in red:
        ax.plot(phases, r, color=RED, alpha=0.55, lw=2, solid_joinstyle='round')
    ax.plot([1, 8], [1, 1], color='k', lw=2)
    ax.plot([1, 8], [0.9, 0.9], color='k', lw=2.5, dashes=(4, 2.4))
    ax.set_xlim(1, 8)
    ax.set_ylim(0.3, 1.2)
    ax.set_xticks(phases)
    ax.set_yticks([0.4, 0.6, 0.8, 1.0, 1.2])
    style(ax)
    ax.set_xlabel('Number of HMM phases', fontsize=LAB_FS, labelpad=8)
    ax.set_ylabel('CV error', fontsize=LAB_FS, labelpad=6)
    ax.set_title(title, fontsize=15.5, fontweight='bold', pad=7)


def scatter_panel(ax, gx, gy, rx, ry):
    ax.plot([-0.6, 0.1], [-0.1, -0.1], color='k', lw=1, dashes=(9, 6))
    ax.plot([-0.6, 0.1], [-0.6, 0.1], color='k', lw=1, dashes=(9, 6))
    ax.plot([-0.1, -0.1], [-0.6, 0.1], color='k', lw=1.3, dashes=(10, 6))
    ax.scatter(gx, gy, s=68, color=GREEN, alpha=0.55, edgecolors=GREEN, linewidths=0.8, zorder=3)
    ax.scatter(rx, ry, s=68, color=RED, alpha=0.55, edgecolors=RED, linewidths=0.8, zorder=3)
    ax.set_xlim(-0.6, 0.1)
    ax.set_ylim(-0.6, 0.1)
    ax.set_xticks([-0.6, -0.4, -0.2, 0])
    ax.set_yticks([-0.6, -0.4, -0.2, 0])
    style(ax)
    ax.set_xlabel('Δ CV error (phase 2-1)', fontsize=LAB_FS, labelpad=8)
    ax.set_ylabel('Δ CV error (phase 3-2)', fontsize=LAB_FS, labelpad=4)


axA = px_axes(fig, 80, 276, 62.7, 258.3)
cv_panel(axA, v1_green, v1_red, 'V1')
axB = px_axes(fig, 390.7, 586.7, 62.7, 258.3)
scatter_panel(axB, b_green_x, b_green_y, b_red_x, b_red_y)
axC = px_axes(fig, 699.3, 896, 62.7, 258.3)
cv_panel(axC, v4_green, v4_red, 'V4')
axD = px_axes(fig, 1010, 1206, 62.7, 258.3)
scatter_panel(axD, d_green_x, d_green_y, d_red_x, d_red_y)

e_lefts = [80, 389.3, 699.3, 1008.3]
e_grey = [v1_off_grey, v4_off_grey, v1_on_grey, v4_on_grey]
e_mean = [v1_off_mean, v4_off_mean, v1_on_mean, v4_on_mean]
e_fit = [v1_off_fit, v4_off_fit, v1_on_fit, v4_on_fit]
e_ylim = [0.6, 0.6, 1.0, 1.0]
e_yticks = [[0, 0.2, 0.4, 0.6], [0, 0.2, 0.4, 0.6], [0, 0.5, 1], [0, 0.5, 1]]

for i in range(4):
    ax = px_axes(fig, e_lefts[i], e_lefts[i] + 196, 405, 600)
    for g in e_grey[i]:
        ax.plot(epoch_t, g, color=(0.53, 0.53, 0.53), lw=1)
    ax.plot(epoch_t, e_mean[i], color='k', lw=2.5)
    ax.plot(epoch_t, e_fit[i], color='red', lw=3.5)
    ax.set_xlim(0, 1)
    ax.set_ylim(0, e_ylim[i])
    ax.set_xticks([0, 0.5, 1])
    ax.set_yticks(e_yticks[i])
    style(ax)
    ax.set_xlabel('Epoch duration (s)', fontsize=LAB_FS, labelpad=8)
    if i == 0:
        ax.set_ylabel('Probability Density', fontsize=LAB_FS, labelpad=6)
    ax.set_title(e_titles[i], fontsize=16, fontweight='bold', pad=10)
    ax.text(0.30, 0.78, e_tau[i], transform=ax.transAxes, ha='left', va='center',
            fontsize=15, family=['Liberation Serif', 'DejaVu Serif'])

for lab, x, y in [('A', 21, 33), ('B', 332, 33), ('C', 642, 33), ('D', 952, 33), ('E', 9, 361)]:
    fig.text(x / W, 1 - y / H, lab, fontsize=21, ha='left', va='center')

fig.savefig('out.png', dpi=100)
